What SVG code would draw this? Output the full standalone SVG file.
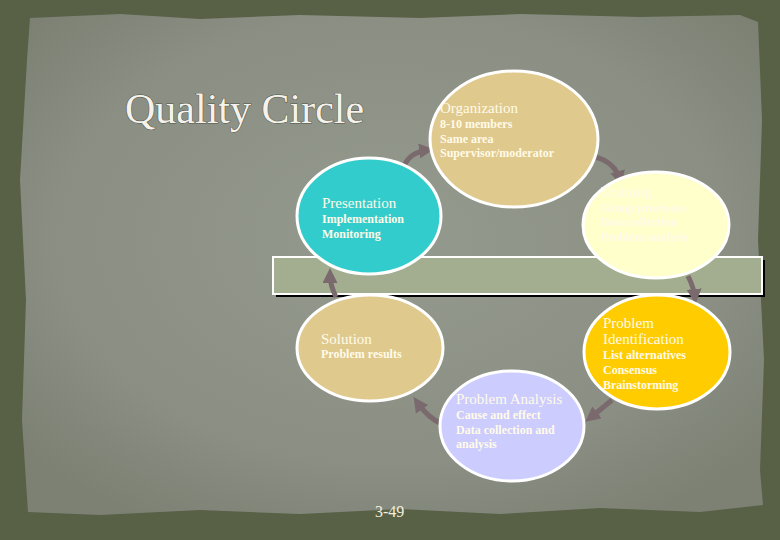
<svg xmlns="http://www.w3.org/2000/svg" width="780" height="540" viewBox="0 0 780 540">
<defs>
<radialGradient id="paper" cx="50%" cy="45%" r="65%">
<stop offset="0" stop-color="#959a8e"/>
<stop offset="0.7" stop-color="#8a8e83"/>
<stop offset="1" stop-color="#7c8174"/>
</radialGradient>
<marker id="ah" viewBox="0 0 10 10" refX="6" refY="5" markerWidth="3" markerHeight="3" orient="auto" markerUnits="strokeWidth">
<path d="M0,0 L10,5 L0,10 z" fill="#7a6a6e"/>
</marker>
<style>
.conn{fill:none;stroke:#7a6a6e;stroke-width:5;marker-end:url(#ah)}
.node{stroke:#ffffff;stroke-width:3}
.t{font-family:"Liberation Serif","Times New Roman",serif;fill:#fffbe8}
.h{font-size:15px}
.s{font-size:12px;font-weight:bold}
</style>
</defs>
<rect width="780" height="540" fill="#586046"/>
<path d="M30,18 L120,14 L200,19 L300,15 L420,18 L520,14 L640,17 L740,15 L758,22 L762,120 L758,240 L764,360 L760,470 L763,505 L700,512 L600,508 L500,514 L400,509 L300,514 L200,510 L100,515 L28,512 L22,420 L26,300 L20,180 L27,60 Z" fill="url(#paper)"/>
<text x="125" y="123" font-family="Liberation Serif, Times New Roman, serif" font-size="42" fill="#f4f2ea" stroke="#4e5246" stroke-width="1" paint-order="stroke">Quality Circle</text>
<g id="bar">
<rect x="276" y="260" width="489" height="37" fill="#000"/>
<rect x="273" y="257" width="489" height="37" fill="#a3ad8f" stroke="#ffffff" stroke-width="2"/>
</g>
<g id="connectors">
<path class="conn" d="M404,166 Q410,152 428,150"/>
<path class="conn" d="M595,157 Q615,162 620,180"/>
<path class="conn" d="M688,276 Q694,288 695,298"/>
<path class="conn" d="M612,400 Q600,410 590,418"/>
<path class="conn" d="M442,424 Q428,418 417,402"/>
<path class="conn" d="M336,297 Q330,285 330,274"/>
</g>
<g id="organization">
<ellipse class="node" cx="514" cy="139" rx="84" ry="68" fill="#dfc98d"/>
<text class="t h" x="440" y="113">Organization</text>
<text class="t s" x="440" y="128">8-10 members</text>
<text class="t s" x="440" y="143">Same area</text>
<text class="t s" x="440" y="157">Supervisor/moderator</text>
</g>
<g id="training">
<ellipse class="node" cx="656" cy="225" rx="73" ry="53" fill="#ffffcc"/>
<text class="t h" x="601" y="197">Training</text>
<text class="t s" x="601" y="212">Group processes</text>
<text class="t s" x="601" y="226">Data collection</text>
<text class="t s" x="601" y="241">Problem analysis</text>
</g>
<g id="presentation">
<ellipse class="node" cx="369" cy="216" rx="72" ry="58" fill="#33cccc"/>
<text class="t h" x="322" y="208">Presentation</text>
<text class="t s" x="322" y="223">Implementation</text>
<text class="t s" x="322" y="238">Monitoring</text>
</g>
<g id="solution">
<ellipse class="node" cx="370" cy="348" rx="73" ry="53" fill="#dfc98d"/>
<text class="t h" x="321" y="344">Solution</text>
<text class="t s" x="321" y="358">Problem results</text>
</g>
<g id="problem-identification">
<ellipse class="node" cx="657" cy="352" rx="73" ry="57" fill="#ffcc00"/>
<text class="t h" x="603" y="328">Problem</text>
<text class="t h" x="603" y="344">Identification</text>
<text class="t s" x="603" y="359">List alternatives</text>
<text class="t s" x="603" y="374">Consensus</text>
<text class="t s" x="603" y="389">Brainstorming</text>
</g>
<g id="problem-analysis">
<ellipse class="node" cx="512" cy="426" rx="72" ry="55" fill="#ccccff"/>
<text class="t h" x="456" y="404">Problem Analysis</text>
<text class="t s" x="456" y="419">Cause and effect</text>
<text class="t s" x="456" y="434">Data collection and</text>
<text class="t s" x="456" y="448">analysis</text>
</g>
<text x="375" y="517" font-family="Liberation Serif, Times New Roman, serif" font-size="16" fill="#f2f0de">3-49</text>
</svg>
